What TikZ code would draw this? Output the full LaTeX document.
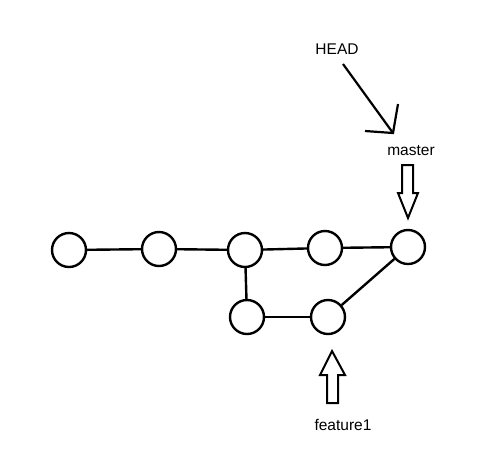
\documentclass[tikz,border=0pt]{standalone}
\usepackage{fontspec}
\setmainfont{Liberation Sans}
\begin{document}
\begin{tikzpicture}[x=1pt,y=-1pt,
  commit/.style={circle,draw,line width=2.4pt,minimum size=34pt,inner sep=0pt},
  edge/.style={line width=2.4pt},
  lbl/.style={font=\fontsize{15.5}{17}\selectfont,inner sep=0pt},
  blockarrow/.style={draw,line width=2pt,fill=white,line join=miter}]
\useasboundingbox (0,0) rectangle (482,467);
\node[commit] (c1) at (69,250) {};
\node[commit] (c2) at (159,249) {};
\node[commit] (c3) at (245,250) {};
\node[commit] (c4) at (325,248) {};
\node[commit] (c5) at (408,247) {};
\node[commit] (c6) at (247,317) {};
\node[commit] (c7) at (328,317) {};
\draw[edge] (c1) -- (c2);
\draw[edge] (c2) -- (c3);
\draw[edge] (c3) -- (c4);
\draw[edge] (c4) -- (c5);
\draw[edge] (c3) -- (c6);
\draw[edge] (c6) -- (c7);
\draw[edge] (c7) -- (c5);
\node[lbl] (head) at (337,49) {HEAD};
\node[lbl] (master) at (411,151) {master};
\node[lbl] (feat) at (343,425) {feature1};
\coordinate (hs) at (343,64);
\coordinate (ht) at (393,133);
\draw[line width=2.2pt] (hs) -- (ht);
\draw[line width=2.2pt] (365,131) -- (ht) -- (398,104);
\draw[blockarrow] (402,165) -- (413,165) -- (413,193) -- (418,193) -- (408,218) -- (398,193) -- (402,193) -- cycle;
\draw[blockarrow] (327,403) -- (338,403) -- (338,375) -- (345,375) -- (332,351) -- (320,375) -- (327,375) -- cycle;
\end{tikzpicture}
\end{document}
